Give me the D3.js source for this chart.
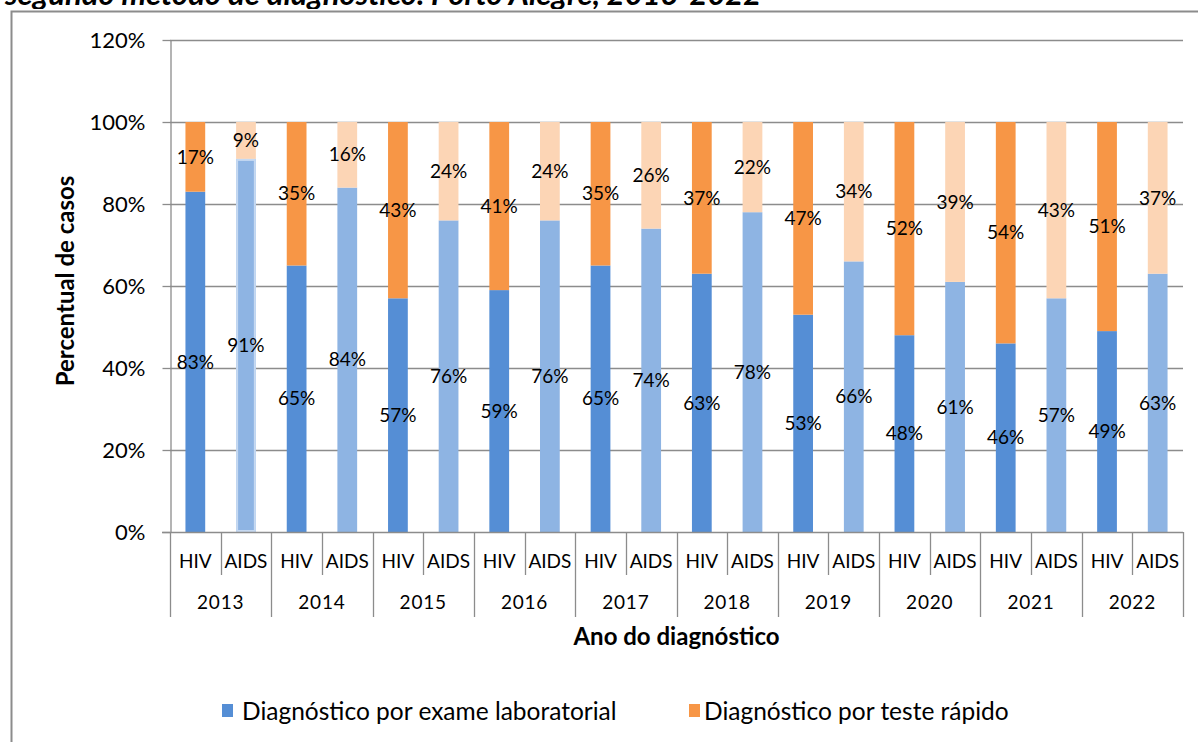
<!DOCTYPE html>
<html>
<head>
<meta charset="utf-8">
<script src="https://cdn.jsdelivr.net/npm/d3@7"></script>
<style>
  html, body { margin: 0; padding: 0; background: #fff; overflow: hidden; }
  svg { display: block; font-family: Lato, "Open Sans", sans-serif; }
</style>
</head>
<body>
<div id="chart"></div>
<script>
// data
const years = ['2013', '2014', '2015', '2016', '2017', '2018', '2019', '2020', '2021', '2022'];
const groups = ['HIV', 'AIDS'];
const hivLab = [83, 65, 57, 59, 65, 63, 53, 48, 46, 49];
const hivRapid = [17, 35, 43, 41, 35, 37, 47, 52, 54, 51];
const aidsLab = [91, 84, 76, 76, 74, 78, 66, 61, 57, 63];
const aidsRapid = [9, 16, 24, 24, 26, 22, 34, 39, 43, 37];
const yTicks = [0, 20, 40, 60, 80, 100, 120];
const seriesNames = ['Diagnóstico por exame laboratorial', 'Diagnóstico por teste rápido'];

const width = 1198;
const height = 742;

const colors = {
  HIV: ['#558ed5', '#f79646'],
  AIDS: ['#8eb4e3', '#fcd5b5']
};

// flatten into 20 bars
const bars = [];
years.forEach((yr, i) => {
  bars.push({ key: yr + '-HIV', year: yr, group: 'HIV', lab: hivLab[i], rapid: hivRapid[i] });
  bars.push({ key: yr + '-AIDS', year: yr, group: 'AIDS', lab: aidsLab[i], rapid: aidsRapid[i] });
});

const plot = { left: 170, right: 1183, top: 40, bottom: 532 };

const x = d3.scaleBand()
  .domain(bars.map(d => d.key))
  .range([plot.left, plot.right])
  .paddingInner(0.61)
  .paddingOuter(0.305);

const xYear = d3.scaleBand()
  .domain(years)
  .range([plot.left, plot.right]);

const y = d3.scaleLinear()
  .domain([0, 120])
  .range([plot.bottom, plot.top]);

const svg = d3.select('#chart')
  .append('svg')
  .attr('width', width)
  .attr('height', height);

// cut-off title line at the top
svg.append('text')
  .attr('x', 5)
  .attr('y', 5)
  .attr('font-size', 31)
  .attr('font-weight', 'bold')
  .attr('font-style', 'italic')
  .attr('fill', '#000')
  .text('segundo método de diagnóstico. Porto Alegre, 2013-2022');

// chart frame
svg.append('rect')
  .attr('x', 0).attr('y', 9)
  .attr('width', width).attr('height', height)
  .attr('fill', '#fff');
svg.append('path')
  .attr('d', `M11.5,${height} V11.5 H${width}`)
  .attr('fill', 'none')
  .attr('stroke', '#8c8c8c')
  .attr('stroke-width', 2);

// gridlines
svg.append('g')
  .selectAll('line')
  .data(yTicks.filter(t => t > 0))
  .join('line')
  .attr('x1', plot.left)
  .attr('x2', plot.right)
  .attr('y1', d => Math.round(y(d)) + 0.5)
  .attr('y2', d => Math.round(y(d)) + 0.5)
  .attr('stroke', '#8c8c8c')
  .attr('stroke-width', 1.3);

// y axis
const yAxis = svg.append('g')
  .attr('transform', `translate(${plot.left + 0.5},0)`)
  .call(d3.axisLeft(y).tickValues(yTicks).tickSize(8).tickSizeOuter(0).tickFormat(d => d + '%').tickPadding(17));
yAxis.select('.domain').attr('stroke', '#8c8c8c').attr('stroke-width', 1.3);
yAxis.selectAll('.tick line').attr('stroke', '#8c8c8c').attr('stroke-width', 1.3);
yAxis.selectAll('.tick text')
  .attr('font-size', 22)
  .attr('font-family', 'Lato, sans-serif')
  .attr('fill', '#000');

svg.append('text')
  .attr('transform', `translate(74,281) rotate(-90)`)
  .attr('text-anchor', 'middle')
  .attr('font-size', 24)
  .attr('font-weight', 'bold')
  .text('Percentual de casos');

// stacked bars
const barG = svg.append('g')
  .selectAll('g')
  .data(bars)
  .join('g');

barG.append('rect')
  .attr('x', d => x(d.key))
  .attr('width', x.bandwidth())
  .attr('y', d => y(d.lab))
  .attr('height', d => y(0) - y(d.lab))
  .attr('fill', d => colors[d.group][0]);

barG.append('rect')
  .attr('x', d => x(d.key))
  .attr('width', x.bandwidth())
  .attr('y', d => y(d.lab + d.rapid))
  .attr('height', d => y(d.lab) - y(d.lab + d.rapid))
  .attr('fill', d => colors[d.group][1]);

// the 2013 AIDS bar has a light highlight edge
barG.filter(d => d.key === '2013-AIDS')
  .append('rect')
  .attr('x', d => x(d.key) + 1)
  .attr('width', x.bandwidth() - 2)
  .attr('y', d => y(d.lab) + 1)
  .attr('height', d => y(0) - y(d.lab) - 2)
  .attr('fill', 'none')
  .attr('stroke', '#c6d9f1')
  .attr('stroke-width', 2);

// data labels
barG.append('text')
  .attr('x', d => x(d.key) + x.bandwidth() / 2)
  .attr('y', d => y(d.lab / 2))
  .attr('dy', '0.35em')
  .attr('text-anchor', 'middle')
  .attr('font-size', 19)
  .attr('fill', '#000')
  .text(d => d.lab + '%');

barG.append('text')
  .attr('x', d => x(d.key) + x.bandwidth() / 2)
  .attr('y', d => y(d.lab + d.rapid / 2))
  .attr('dy', '0.35em')
  .attr('text-anchor', 'middle')
  .attr('font-size', 19)
  .attr('fill', '#000')
  .text(d => d.rapid + '%');

// x axis baseline
svg.append('line')
  .attr('x1', plot.left - 8).attr('x2', plot.right)
  .attr('y1', plot.bottom + 0.5).attr('y2', plot.bottom + 0.5)
  .attr('stroke', '#8c8c8c')
  .attr('stroke-width', 1.3);

// group separators (HIV | AIDS)
svg.append('g')
  .selectAll('line')
  .data(years)
  .join('line')
  .attr('x1', d => Math.round(xYear(d) + xYear.bandwidth() / 2) + 0.5)
  .attr('x2', d => Math.round(xYear(d) + xYear.bandwidth() / 2) + 0.5)
  .attr('y1', plot.bottom)
  .attr('y2', plot.bottom + 43)
  .attr('stroke', '#8c8c8c')
  .attr('stroke-width', 1.3);

// year separators
svg.append('g')
  .selectAll('line')
  .data(years.concat(['end']))
  .join('line')
  .attr('x1', d => Math.round(d === 'end' ? plot.right : xYear(d)) + 0.5)
  .attr('x2', d => Math.round(d === 'end' ? plot.right : xYear(d)) + 0.5)
  .attr('y1', plot.bottom)
  .attr('y2', plot.bottom + 85)
  .attr('stroke', '#8c8c8c')
  .attr('stroke-width', 1.3);

// category labels
svg.append('g')
  .selectAll('text')
  .data(bars)
  .join('text')
  .attr('x', d => x(d.key) + x.bandwidth() / 2)
  .attr('y', plot.bottom + 36)
  .attr('text-anchor', 'middle')
  .attr('font-size', 19)
  .attr('fill', '#000')
  .text(d => d.group);

svg.append('g')
  .selectAll('text')
  .data(years)
  .join('text')
  .attr('x', d => xYear(d) + xYear.bandwidth() / 2)
  .attr('y', plot.bottom + 77)
  .attr('text-anchor', 'middle')
  .attr('font-size', 19)
  .attr('letter-spacing', 0.8)
  .attr('fill', '#000')
  .text(d => d);

svg.append('text')
  .attr('x', (plot.left + plot.right) / 2)
  .attr('y', 645)
  .attr('text-anchor', 'middle')
  .attr('font-size', 24)
  .attr('font-weight', 'bold')
  .text('Ano do diagnóstico');

// legend
const legendX = [222, 689];
const legend = svg.append('g')
  .selectAll('g')
  .data(seriesNames)
  .join('g')
  .attr('transform', (d, i) => `translate(${legendX[i]},704)`);

legend.append('rect')
  .attr('width', 11)
  .attr('height', 13)
  .attr('fill', (d, i) => colors.HIV[i]);

legend.append('text')
  .attr('x', (d, i) => i === 0 ? 20 : 15)
  .attr('y', 7)
  .attr('dy', '0.35em')
  .attr('font-size', 24.5)
  .attr('fill', '#000')
  .text(d => d);
</script>
</body>
</html>
